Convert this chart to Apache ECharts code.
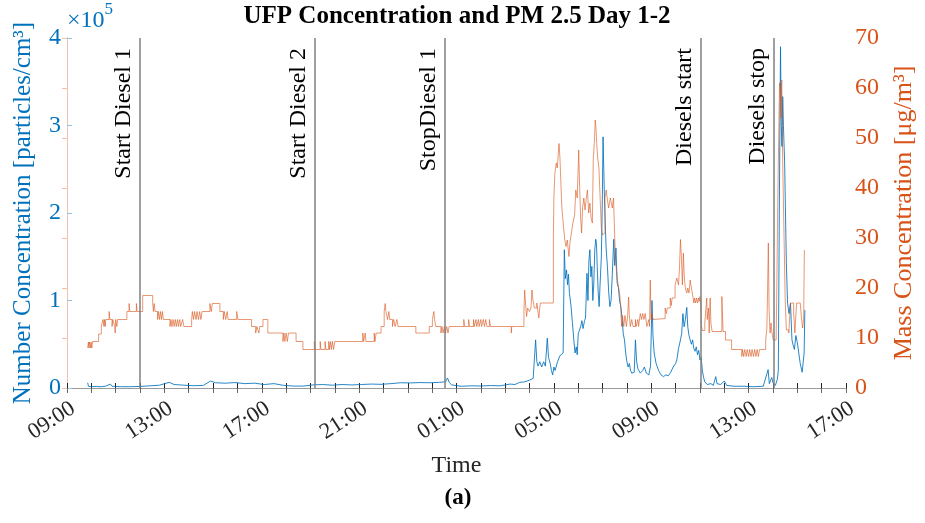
<!DOCTYPE html>
<html>
<head>
<meta charset="utf-8">
<script src="https://cdn.jsdelivr.net/npm/echarts@6/dist/echarts.min.js"></script>
<style>html,body{margin:0;padding:0;background:#fff}#c{width:925px;height:523px}</style>
</head>
<body>
<div id="c"></div>
<script>
// x values: hours after 09:00 of day 1
const xTickLabels = ['09:00','13:00','17:00','21:00','01:00','05:00','09:00','13:00','17:00'];
const eventTimes = [3.0, 10.16, 15.5, 26.04, 29.05];
const eventLabels = ['Start Diesel 1','Start Diesel 2','StopDiesel 1','Diesels start','Diesels stop'];

// PM 2.5 mass concentration [µg/m3], [hour, value]
const pmDay1 = [
[0.85,8.0],[0.88,9.2],[0.9,8.0],[0.93,9.2],[0.96,8.0],[0.99,9.2],[1.02,8.0],[1.05,9.3],[1.3,10.8],[1.41,12.3],
[1.48,13.7],[1.52,12.3],[1.54,13.7],[1.57,12.3],[1.59,13.7],[1.73,15.3],[1.76,13.7],[1.85,12.3],[1.88,13.7],[1.96,12.3],
[1.98,11.0],[2.0,13.7],[2.05,12.3],[2.08,13.7],[2.46,15.3],[2.55,16.9],[2.58,15.3],[2.85,16.9],[2.88,15.3],[3.11,18.5],
[3.52,16.9],[3.55,15.3],[3.58,16.9],[3.62,15.3],[3.72,13.7],[3.76,15.3],[3.8,13.7],[3.84,15.3],[3.88,13.7],[3.92,15.3],
[3.96,13.7],[4.23,12.3],[4.27,13.7],[4.31,12.3],[4.36,13.7],[4.4,12.3],[4.45,13.7],[4.49,12.3],[4.54,13.7],[4.58,12.3],
[4.63,13.7],[4.67,12.3],[4.75,13.7],[4.8,12.3],[5.12,13.7],[5.15,15.3],[5.2,13.7],[5.24,15.3],[5.3,13.7],[5.34,15.3],
[5.4,13.7],[5.45,15.3],[5.5,13.7],[5.55,15.3],[5.87,16.9],[5.93,15.3],[5.97,16.9],[6.28,15.3],[6.42,13.7],[6.46,15.3],
[6.52,13.7],[6.58,15.3],[6.62,13.7],[6.97,15.3],[7.02,13.7],[7.58,12.3],[7.75,11.0],[7.8,12.3],[7.88,11.0],[7.92,12.3],
[8.05,13.7],[8.25,11.0],[8.87,9.3],[8.91,11.0],[8.95,9.3],[9.0,11.0],[9.05,9.3],[9.1,11.0],[9.41,9.3],[9.69,7.7],
[10.16,9.3],[10.19,7.7],[10.4,9.3],[10.43,7.7],[10.6,9.3],[10.63,7.7],[10.75,9.3],[10.78,7.7],[10.82,9.3],[10.86,7.7],
[10.9,9.3],[10.95,7.7],[11.0,9.3],[12.15,11.0],[12.18,9.3],[12.25,11.0],[12.28,9.3],[12.62,11.0],[12.65,9.3],[12.7,11.0],
[12.9,12.3],[13.03,15.3],[13.07,16.9],[13.1,15.3],[13.17,13.7],[13.22,15.3],[13.26,13.7],[13.37,12.3],[13.42,13.7],[13.48,12.3],
[13.55,13.7],[13.6,12.3],[14.33,11.0],[14.88,12.3],[15.01,13.7],[15.07,15.3],[15.1,13.7],[15.15,12.3],[15.36,11.0],[15.4,12.3],
[15.45,11.0],[15.5,12.3],[15.55,11.0],[15.6,12.3],[15.65,11.0],[15.7,12.3]
];
const pmDay2 = [
[16.3,13.7],[16.33,12.3],[16.5,13.7],[16.53,12.3],[16.7,13.7],[16.73,12.3],[16.8,13.7],[16.83,12.3],[16.9,13.7],[16.93,12.3],
[17.0,13.7],[17.03,12.3],[17.1,13.7],[17.15,12.3],[17.2,13.7],[17.25,12.3],[17.35,13.7],[17.4,12.3],[18.25,11.0],[18.27,12.3],
[18.77,15.3],[18.8,19.6],[18.84,16.5],[18.88,14.3],[18.92,16.0],[19.0,15.3],[19.06,16.0],[19.1,19.6],[19.14,17.6],[19.2,16.0],
[19.3,17.0],[19.38,14.0],[19.42,16.0],[19.45,17.0],[19.98,30],[20.0,38],[20.04,42.9],[20.1,45],[20.14,44],[20.21,48.9],
[20.25,46],[20.28,42],[20.33,36],[20.4,32],[20.45,29.6],[20.5,28.3],[20.55,29.6],[20.62,26.3],[20.66,29],[20.72,31],
[20.78,33],[20.85,34.5],[20.9,39.6],[20.96,38],[21.02,47.6],[21.06,40],[21.1,34],[21.14,31],[21.18,36],[21.23,38],
[21.28,35.6],[21.33,38],[21.38,39.6],[21.43,35],[21.48,37],[21.53,34],[21.58,33],[21.62,46],[21.66,48.9],[21.7,53.6],
[21.73,52],[21.76,48.9],[21.8,46],[21.85,44],[21.9,38],[21.95,32],[22.0,30.6],[22.05,31],[22.1,38],[22.15,39.6],
[22.2,37.6],[22.25,36],[22.32,38],[22.4,36],[22.45,38],[22.5,30],[22.55,24.6],[22.6,22],[22.66,20],[22.7,19],
[22.75,16],[22.78,12.3],[22.82,14.5],[22.87,12.3],[22.92,14.5],[22.98,12.3],[23.03,14.5],[23.07,18.2],[23.1,14.5],[23.14,12.3],
[23.2,13.7],[23.25,12.3],[23.35,13.7],[23.38,12.3],[23.45,13.7],[23.48,12.3],[23.55,14.9],[23.6,13.7],[23.65,14.9],[23.7,13.7],
[23.75,14.9],[23.82,12.3],[23.9,13.7],[23.93,12.3],[23.96,21.6],[23.99,13.7],[24.03,14.9],[24.08,13.7],[24.16,13.9],[24.57,16.0],
[24.62,14.9],[24.66,16.0],[24.78,18],[24.82,16.5],[24.86,18],[24.98,20.6],[25.05,22],[25.12,20.6],[25.16,24],[25.2,29.7],
[25.24,26],[25.28,20.6],[25.32,27],[25.36,22],[25.4,20],[25.46,19],[25.5,20],[25.55,19],[25.6,21.6],[25.65,20],
[25.72,18],[25.75,17],[25.78,18],[25.82,17],[25.86,18],[25.9,17],[25.94,18],[25.97,17.3],[26.0,18.3],[26.04,17],
[26.06,12.5],[26.1,11.5],[26.2,13],[26.28,18],[26.3,13.7],[26.35,16],[26.38,11.0],[26.42,18],[26.45,13],[26.5,11.3],
[26.9,18.3],[26.95,11.3],[27.05,9.6],[27.3,7.7],[27.72,6.3],[27.75,7.7],[27.8,6.3],[27.84,7.7],[27.9,6.3],[27.94,7.7],
[28.0,6.3],[28.04,7.7],[28.1,6.3],[28.14,7.7],[28.2,6.3],[28.25,7.7],[28.3,6.3],[28.35,7.7],[28.4,6.3],[28.45,7.7],
[28.54,7.7],[28.7,9.5],[28.75,12],[28.78,20],[28.81,29],[28.84,16],[28.88,11],[28.92,13],[28.96,11],[29.01,9.6],
[29.13,9.6],[29.15,16.9],[29.2,38],[29.25,55],[29.27,61],[29.3,59.6],[29.33,54],[29.36,61.6],[29.4,45],[29.45,31.6],
[29.5,18],[29.55,11.6],[29.65,11],[29.72,17],[29.8,17],[29.85,15],[29.9,11],[29.97,17],[30.12,17],[30.17,14],
[30.22,12],[30.26,14],[30.29,27.6],[30.31,27.6]
];

// UFP number concentration [particles/cm3], [hour, value]
const ufpDay1 = [
[0.85,6000],[0.88,2000],[1.0,1500],[1.2,1800],[1.4,1400],[1.6,2200],[1.78,4500],[1.85,2000],[2.2,1500],[2.6,1500],
[3.0,1800],[3.4,2500],[3.8,3200],[4.2,6500],[4.4,4000],[4.8,3200],[5.2,2600],[5.6,3000],[5.9,8000],[6.1,6000],
[6.5,5500],[6.9,6200],[7.3,5000],[7.7,5500],[8.1,4000],[8.5,5000],[8.9,3000],[9.3,2200],[9.7,2200],[10.1,3500],
[10.5,4000],[10.9,3200],[11.3,4000],[11.7,3500],[12.1,4000],[12.5,4500],[12.9,4200],[13.3,5000],[13.7,6000],[14.1,5800],
[14.5,6200],[14.9,6000],[15.3,6500],[15.55,7000],[15.63,11500],[15.7,6500],[15.8,3500],[16.2,2000],[16.6,2500],[17.0,2300],
[17.4,2800],[17.8,2500],[18.2,4500],[18.4,4000],[18.6,6500],[18.8,7000],[19.0,9000],[19.15,11000],[19.22,13000]
];
const ufpDay2 = [
[19.25,55000],[19.3,30000],[19.35,25000],[19.42,30000],[19.5,24000],[19.58,30000],[19.65,25000],[19.73,57000],[19.78,35000],[19.85,28000],
[19.9,20000],[19.95,15000],[20.0,24000],[20.05,20000],[20.15,30000],[20.25,37000],[20.38,40000],[20.43,158000],[20.47,125000],[20.52,135000],
[20.56,118000],[20.6,130000],[20.64,108000],[20.7,95000],[20.76,75000],[20.82,55000],[20.87,40000],[20.92,47000],[20.96,38000],[21.0,62000],
[21.05,60000],[21.1,70000],[21.15,77000],[21.2,68000],[21.26,77000],[21.3,80000],[21.36,131000],[21.4,100000],[21.44,146000],[21.48,158000],
[21.52,127000],[21.56,139000],[21.6,100000],[21.64,120000],[21.68,158000],[21.72,170000],[21.75,165000],[21.78,139000],[21.82,110000],[21.86,93000],
[21.9,120000],[21.95,150000],[21.99,215000],[22.02,287000],[22.05,250000],[22.08,215000],[22.12,180000],[22.15,158000],[22.2,139000],[22.25,110000],
[22.3,93000],[22.35,100000],[22.4,130000],[22.46,170000],[22.5,140000],[22.55,160000],[22.6,120000],[22.65,115000],[22.7,100000],[22.75,93000],
[22.8,80000],[22.85,62000],[22.9,55000],[22.95,40000],[23.0,30000],[23.05,24000],[23.1,28000],[23.15,20000],[23.2,17000],[23.3,18000],
[23.35,55000],[23.4,30000],[23.45,22000],[23.55,17000],[23.65,20000],[23.72,24000],[23.8,17000],[23.9,15000],[23.97,25000],[24.03,100000],
[24.07,60000],[24.12,40000],[24.2,28000],[24.3,20000],[24.4,15000],[24.5,13000],[24.6,15000],[24.7,14000],[24.8,18000],[24.9,24000],
[25.0,28000],[25.05,32000],[25.12,45000],[25.2,55000],[25.25,62000],[25.3,85000],[25.35,70000],[25.4,78000],[25.46,92000],[25.5,70000],
[25.55,60000],[25.6,62000],[25.65,50000],[25.7,55000],[25.75,45000],[25.8,42000],[25.85,47000],[25.9,38000],[25.95,43000],[26.0,32000],
[26.05,35000],[26.1,20000],[26.15,12000],[26.2,7000],[26.3,4000],[26.45,5000],[26.55,3000],[26.65,13000],[26.7,5000],[26.85,4000],
[27.0,8000],[27.1,3000],[27.4,2000],[27.8,2000],[28.2,1500],[28.6,2000],[28.8,21000],[28.85,5000],[28.95,12000],[29.0,6000],
[29.05,8000],[29.1,3000],[29.18,10000],[29.22,20000],[29.26,200000],[29.31,390000],[29.34,300000],[29.37,276000],[29.4,333000],[29.43,300000],
[29.48,257000],[29.55,142000],[29.6,97000],[29.66,85000],[29.72,97000],[29.78,55000],[29.82,50000],[29.88,44000],[29.94,60000],[30.0,52000],
[30.06,40000],[30.12,28000],[30.2,18000],[30.24,16000],[30.28,40000],[30.31,89000]
];

const SERIF = '"Liberation Serif","DejaVu Serif",serif';
const BLUE = '#0072BD', ORANGE = '#D95319', TXT = '#262626';

const chart = echarts.init(document.getElementById('c'), null, {renderer: 'canvas'});
chart.setOption({
  animation: false,
  backgroundColor: '#fff',
  textStyle: {fontFamily: SERIF},
  title: [
    {text: 'UFP Concentration and PM 2.5 Day 1-2', left: 457, top: 4, textAlign: 'center', padding: 0,
     textStyle: {fontFamily: SERIF, fontSize: 25, fontWeight: 'bold', color: '#000'}},
    {text: '(a)', left: 458, top: 487, textAlign: 'center', padding: 0,
     textStyle: {fontFamily: SERIF, fontSize: 23, fontWeight: 'bold', color: '#000'}}
  ],
  graphic: [{
    type: 'text', left: 67, top: 1,
    style: {
      text: '{a|×10}{b|5}',
      rich: {
        a: {fontFamily: SERIF, fontSize: 24, fill: BLUE, color: BLUE, verticalAlign: 'bottom', lineHeight: 32},
        b: {fontFamily: SERIF, fontSize: 17, fill: BLUE, color: BLUE, verticalAlign: 'top', lineHeight: 32}
      }
    }
  }],
  grid: {left: 67, right: 77, top: 38, bottom: 135, containLabel: false},
  xAxis: [{
    type: 'value', min: 0, max: 32, interval: 1, position: 'bottom',
    name: 'Time', nameLocation: 'middle', nameGap: 66,
    nameTextStyle: {fontFamily: SERIF, fontSize: 24, color: TXT},
    axisLine: {lineStyle: {color: TXT, width: 1}},
    axisTick: {inside: true, length: 5, lineStyle: {color: TXT}},
    axisLabel: {
      rotate: 33, fontFamily: SERIF, fontSize: 22.5, color: TXT, margin: 9, verticalAlign: 'top', align: 'right',
      formatter: v => (Math.round(v) % 4 === 0 ? xTickLabels[Math.round(v) / 4] : '')
    },
    splitLine: {show: false}
  }, {
    type: 'value', min: 0, max: 32, interval: 1, position: 'top',
    axisLine: {lineStyle: {color: '#9a9a9a', width: 1}},
    axisTick: {inside: true, length: 5, lineStyle: {color: '#666'}},
    axisLabel: {show: false}, splitLine: {show: false}
  }],
  yAxis: [{
    type: 'value', min: 0, max: 400000, interval: 100000, position: 'left',
    name: 'Number Concentration [particles/cm³]', nameLocation: 'middle', nameGap: 31, nameRotate: 90,
    nameTextStyle: {fontFamily: SERIF, fontSize: 25, color: BLUE},
    axisLine: {show: true, lineStyle: {color: '#8cc3e6', width: 1}},
    axisTick: {show: true, inside: true, length: 5, lineStyle: {color: '#8cc3e6'}},
    axisLabel: {fontFamily: SERIF, fontSize: 24, color: BLUE, margin: 6, formatter: v => String(v / 100000)},
    splitLine: {show: false}
  }, {
    type: 'value', min: 0, max: 70, interval: 10, position: 'right',
    name: 'Mass Concentration [μg/m³]', nameLocation: 'middle', nameGap: 45, nameRotate: 90,
    nameTextStyle: {fontFamily: SERIF, fontSize: 26, color: ORANGE},
    axisLine: {show: true, lineStyle: {color: '#f5c0a8', width: 1}},
    axisTick: {show: true, inside: true, length: 5, lineStyle: {color: '#f5c0a8'}},
    axisLabel: {fontFamily: SERIF, fontSize: 24, color: ORANGE, margin: 9},
    splitLine: {show: false}
  }],
  series: [{
    name: 'UFP', type: 'line', xAxisIndex: 0, yAxisIndex: 0, symbol: 'none',
    data: ufpDay1.concat(ufpDay2),
    lineStyle: {color: BLUE, width: 1, opacity: 0.85}, z: 2,
    markLine: {
      symbol: 'none', silent: true, animation: false,
      lineStyle: {color: '#7f7f7f', width: 1.5, type: 'solid'},
      label: {show: true, position: 'insideEndTop', formatter: p => p.name, fontFamily: SERIF, fontSize: 24, color: '#000', distance: [10, 4]},
      data: eventTimes.map((t, i) => ({xAxis: t, name: eventLabels[i]}))
    }
  }, {
    name: 'PM2.5', type: 'line', xAxisIndex: 0, yAxisIndex: 1, symbol: 'none', step: 'end',
    data: pmDay1.concat(pmDay2),
    lineStyle: {color: ORANGE, width: 1, opacity: 0.6}, z: 3
  }]
});
</script>
</body>
</html>
